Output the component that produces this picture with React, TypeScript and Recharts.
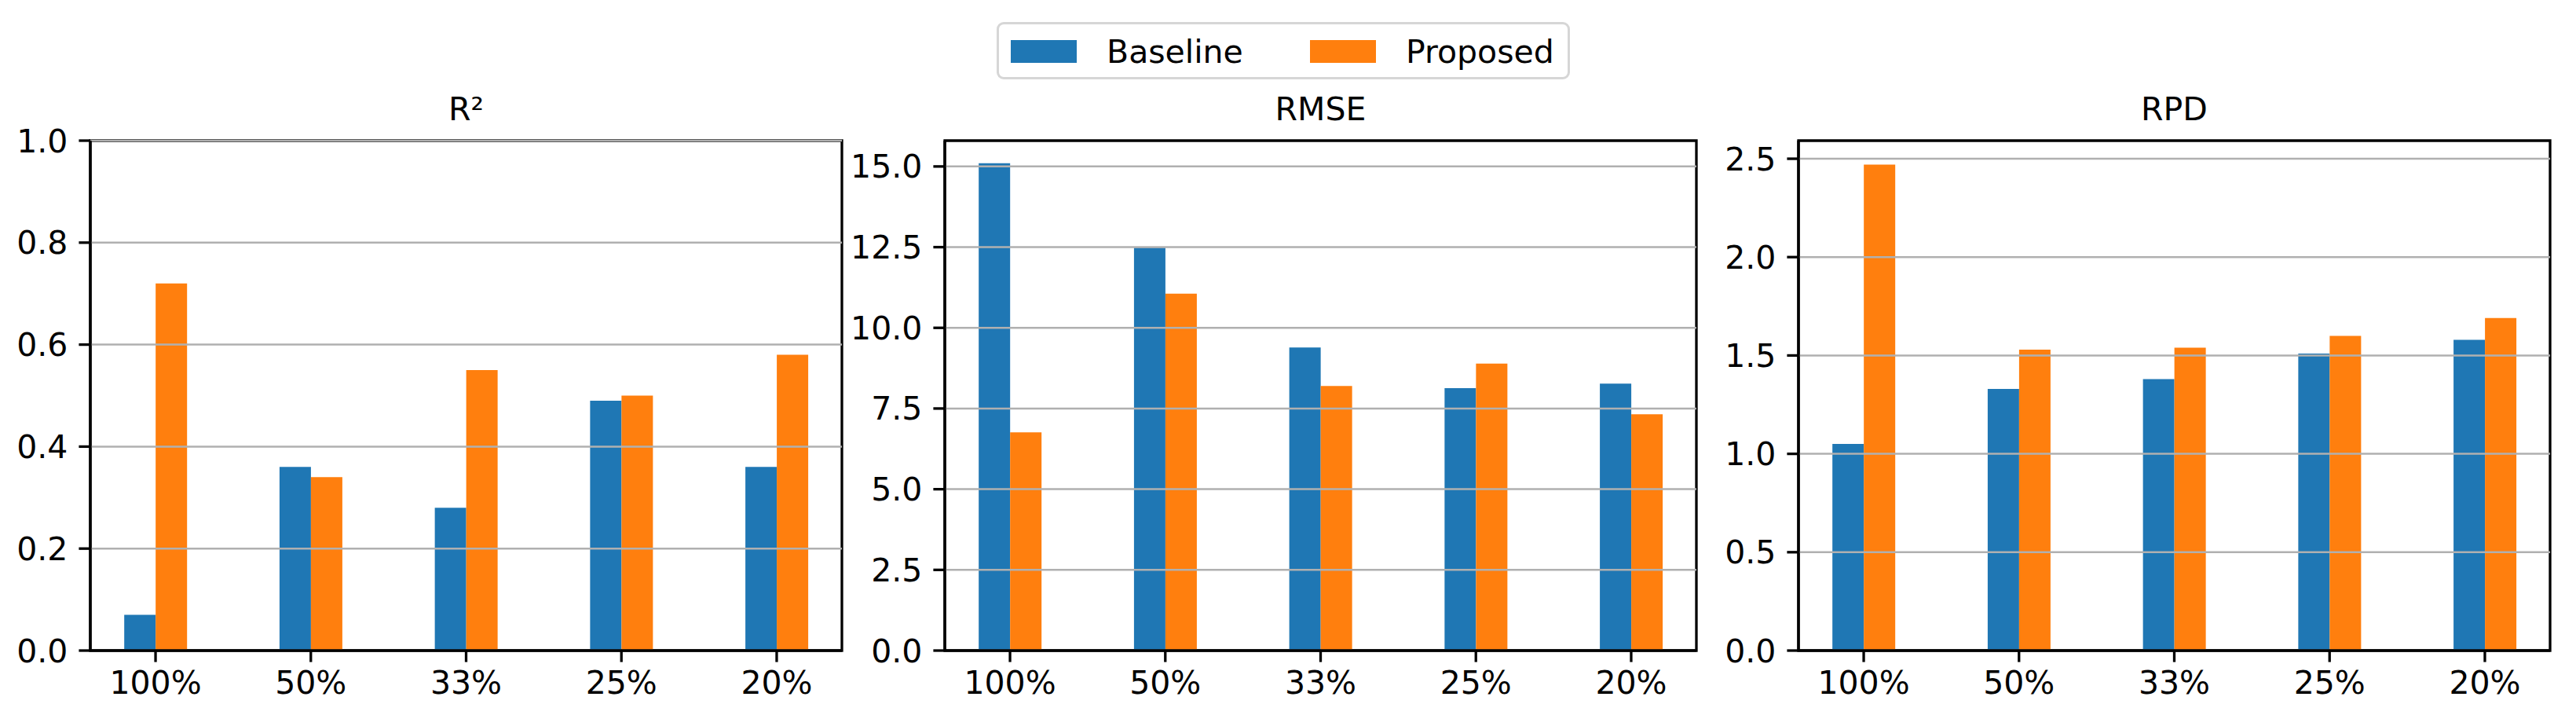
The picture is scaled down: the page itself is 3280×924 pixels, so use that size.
import React from 'react';
import { BarChart, Bar, XAxis, YAxis, ReferenceLine, ReferenceArea } from 'recharts';

const categories = ['100%', '50%', '33%', '25%', '20%'];

const r2Baseline = [0.07, 0.36, 0.28, 0.49, 0.36];
const r2Proposed = [0.72, 0.34, 0.55, 0.5, 0.58];
const rmseBaseline = [15.1, 12.48, 9.39, 8.13, 8.27];
const rmseProposed = [6.76, 11.06, 8.2, 8.89, 7.32];
const rpdBaseline = [1.05, 1.33, 1.38, 1.51, 1.58];
const rpdProposed = [2.47, 1.53, 1.54, 1.6, 1.69];

const r2Ticks = [0, 0.2, 0.4, 0.6, 0.8, 1.0];
const rmseTicks = [0, 2.5, 5, 7.5, 10, 12.5, 15];
const rpdTicks = [0, 0.5, 1, 1.5, 2, 2.5];

const BLUE = '#1f77b4';
const ORANGE = '#ff7f0e';
const FONT = 'DejaVu Sans';
const FS = 41;

const X_MIN = -0.42;
const X_MAX = 4.42;

interface PanelProps {
    title: string;
    left: number;
    baseline: number[];
    proposed: number[];
    ticks: number[];
    yMax: number;
}

const Panel = ({ title, left, baseline, proposed, ticks, yMax }: PanelProps) => {
    const data = categories.map((c, i) => ({
        idx: i,
        name: c,
        baseline: baseline[i],
        proposed: proposed[i],
    }));
    const plotWidth = 957;
    const yAxisW = 140;

    return (
        <>
            <div
                style={{
                    position: 'absolute',
                    left: left,
                    top: 119,
                    width: plotWidth,
                    textAlign: 'center',
                    fontSize: FS,
                    lineHeight: `${FS}px`,
                    fontFamily: FONT,
                    color: '#000',
                }}
            >
                {title}
            </div>
            <div style={{ position: 'absolute', left: left - yAxisW, top: 0 }}>
                <BarChart
                    width={yAxisW + plotWidth + 10}
                    height={924}
                    data={data}
                    margin={{ top: 179, right: 10, bottom: 0, left: 0 }}
                    barGap={0}
                >
                    <XAxis
                        dataKey="idx"
                        type="number"
                        domain={[X_MIN, X_MAX]}
                        allowDataOverflow
                        ticks={[0, 1, 2, 3, 4]}
                        interval={0}
                        tickFormatter={(v: number) => categories[v]}
                        height={96}
                        tickSize={14.6}
                        tickMargin={11}
                        tick={{ fontSize: FS, fill: '#000', fontFamily: FONT }}
                        tickLine={{ stroke: '#000', strokeWidth: 3.3 }}
                        axisLine={{ stroke: '#000', strokeWidth: 3.3 }}
                    />
                    <YAxis
                        type="number"
                        domain={[0, yMax]}
                        allowDataOverflow
                        ticks={ticks}
                        interval={0}
                        width={yAxisW}
                        tickFormatter={(v: number) => v.toFixed(1)}
                        tickSize={14.6}
                        tickMargin={14}
                        tick={{ fontSize: FS, fill: '#000', fontFamily: FONT }}
                        tickLine={{ stroke: '#000', strokeWidth: 3.3 }}
                        axisLine={{ stroke: '#000', strokeWidth: 3.3 }}
                    />
                    <Bar dataKey="baseline" name="Baseline" fill={BLUE} barSize={40} isAnimationActive={false} />
                    <Bar dataKey="proposed" name="Proposed" fill={ORANGE} barSize={40} isAnimationActive={false} />
                    {ticks.map((t) => (
                        <ReferenceLine key={t} y={t} stroke="#b0b0b0" strokeWidth={2.5} />
                    ))}
                    <ReferenceArea
                        x1={X_MIN}
                        x2={X_MAX}
                        y1={0}
                        y2={yMax}
                        fill="none"
                        fillOpacity={0}
                        stroke="#000"
                        strokeWidth={3.3}
                        ifOverflow="visible"
                    />
                </BarChart>
            </div>
        </>
    );
};

const LegendItem = ({ color, label, x }: { color: string; label: string; x: number }) => (
    <>
        <div
            style={{
                position: 'absolute',
                left: x,
                top: 20,
                width: 84,
                height: 29,
                background: color,
            }}
        />
        <div
            style={{
                position: 'absolute',
                left: x + 122,
                top: 15,
                fontSize: FS,
                lineHeight: `${FS}px`,
                fontFamily: FONT,
                whiteSpace: 'nowrap',
                color: '#000',
            }}
        >
            {label}
        </div>
    </>
);

export default function App() {
    return (
        <div
            style={{
                position: 'relative',
                width: 3280,
                height: 924,
                background: '#fff',
                overflow: 'hidden',
                fontFamily: FONT,
            }}
        >
            <style>{'body{margin:0}'}</style>
            <div
                style={{
                    position: 'absolute',
                    left: 1269,
                    top: 28,
                    width: 730,
                    height: 73,
                    boxSizing: 'border-box',
                    border: '3px solid #d6d6d6',
                    borderRadius: 9,
                }}
            >
                <LegendItem color={BLUE} label="Baseline" x={15} />
                <LegendItem color={ORANGE} label="Proposed" x={396} />
            </div>
            <Panel title="R²" left={115} baseline={r2Baseline} proposed={r2Proposed} ticks={r2Ticks} yMax={1.0} />
            <Panel title="RMSE" left={1203} baseline={rmseBaseline} proposed={rmseProposed} ticks={rmseTicks} yMax={15.8} />
            <Panel title="RPD" left={2290} baseline={rpdBaseline} proposed={rpdProposed} ticks={rpdTicks} yMax={2.592} />
        </div>
    );
}
